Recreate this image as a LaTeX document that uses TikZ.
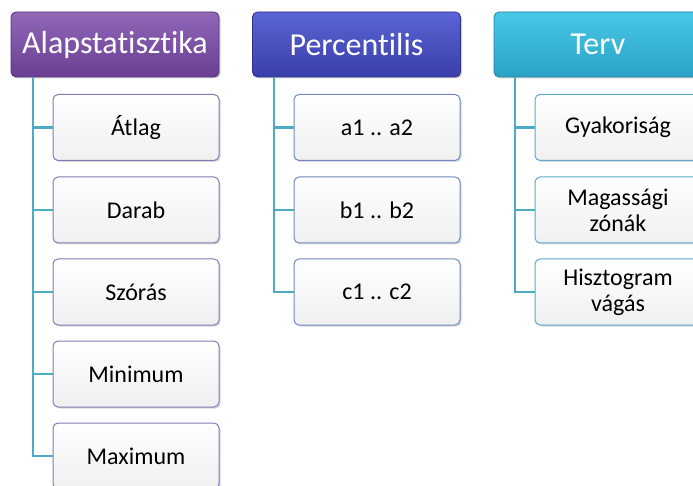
\documentclass[tikz,border=0pt]{standalone}
\usepackage{fontspec}
\setmainfont[RawFeature={-liga;-clig;-calt;-dlig}]{Carlito}
\usetikzlibrary{shadows}
\definecolor{conn}{HTML}{4BACC6}
\definecolor{hAtop}{HTML}{9068B8}
\definecolor{hAbot}{HTML}{6A3E92}
\definecolor{hBtop}{HTML}{5A64D4}
\definecolor{hBbot}{HTML}{3A3EAA}
\definecolor{hCtop}{HTML}{48C8E8}
\definecolor{hCbot}{HTML}{2AA2C6}
\definecolor{bA}{HTML}{8A76B4}
\definecolor{bB}{HTML}{7088C4}
\definecolor{bC}{HTML}{5EAACB}
\tikzset{
  head/.style={draw=#1!80!black, line width=0.8pt, rounded corners=5pt, minimum width=208pt, minimum height=65pt,
    text=white, font=\fontsize{32}{36}\selectfont, inner sep=0pt,
    drop shadow={shadow xshift=1.5pt, shadow yshift=-1.5pt, opacity=0.35}},
  child/.style={draw=#1, line width=1pt, rounded corners=5pt, minimum width=166pt, minimum height=66pt,
    top color=white, bottom color=black!6, text=black, font=\fontsize{24}{26}\selectfont, align=center, inner sep=0pt,
    drop shadow={shadow xshift=1.5pt, shadow yshift=-1.5pt, opacity=0.3}},
  link/.style={draw=conn, line width=2.2pt}
}
\begin{document}
\begin{tikzpicture}[x=1pt,y=-1pt]
\useasboundingbox (0,0) rectangle (693,486);
\clip (0,0) rectangle (693,486);
% headers
\node[head=hAbot, top color=hAtop, bottom color=hAbot] (h1) at (115,44.5) {Alapstatisztika};
\node[head=hBbot, top color=hBtop, bottom color=hBbot] (h2) at (356.5,44.5) {Percentilis};
\node[head=hCbot, top color=hCtop, bottom color=hCbot] (h3) at (598,44.5) {Terv};
% column 1
\node[child=bA] (a1) at (136,127.5) {Átlag};
\node[child=bA] (a2) at (136,210) {Darab};
\node[child=bA] (a3) at (136,292) {Szórás};
\node[child=bA] (a4) at (136,374) {Minimum};
\node[child=bA] (a5) at (136,456) {Maximum};
% column 2
\node[child=bB] (b1) at (377,127.5) {a1 .. a2};
\node[child=bB] (b2) at (377,210) {b1 .. b2};
\node[child=bB] (b3) at (377,292) {c1 .. c2};
% column 3
\node[child=bC] (c1) at (618,127.5) {Gyakoriság};
\node[child=bC] (c2) at (618,210) {Magassági\\zónák};
\node[child=bC] (c3) at (618,292) {Hisztogram\\vágás};
% connectors
\coordinate (t1) at (33,0);
\coordinate (t2) at (274,0);
\coordinate (t3) at (515,0);
\draw[link] (h1.south -| t1) -- (a5.west -| t1) -- (a5.west);
\foreach \n in {a1,a2,a3,a4} \draw[link] (\n.west -| t1) -- (\n.west);
\draw[link] (h2.south -| t2) -- (b3.west -| t2) -- (b3.west);
\foreach \n in {b1,b2} \draw[link] (\n.west -| t2) -- (\n.west);
\draw[link] (h3.south -| t3) -- (c3.west -| t3) -- (c3.west);
\foreach \n in {c1,c2} \draw[link] (\n.west -| t3) -- (\n.west);
\end{tikzpicture}
\end{document}
